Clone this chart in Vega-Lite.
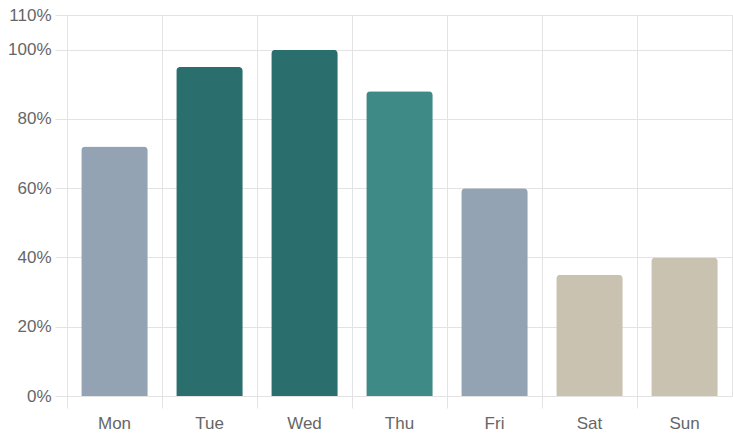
{
  "$schema": "https://vega.github.io/schema/vega-lite/v6.json",
  "width": 665,
  "height": 381,
  "autosize": "none",
  "padding": {"left": 67, "top": 15, "right": 1, "bottom": 43},
  "config": {
    "view": {"stroke": "#e3e3e3", "strokeWidth": 1},
    "axis": {
      "labelFont": "Liberation Sans",
      "labelFontSize": 17,
      "labelColor": "#666666",
      "gridColor": "#e3e3e3",
      "tickColor": "#e3e3e3",
      "domainColor": "#d6d6d6",
      "title": null
    }
  },
  "data": {
    "values": [
      {"day": "Mon", "value": 0.72, "level": "medium"},
      {"day": "Tue", "value": 0.95, "level": "high"},
      {"day": "Wed", "value": 1.0, "level": "high"},
      {"day": "Thu", "value": 0.88, "level": "medium-high"},
      {"day": "Fri", "value": 0.60, "level": "medium"},
      {"day": "Sat", "value": 0.35, "level": "low"},
      {"day": "Sun", "value": 0.40, "level": "low"}
    ]
  },
  "mark": {"type": "bar", "width": {"band": 0.7}, "cornerRadiusTopLeft": 4, "cornerRadiusTopRight": 4},
  "encoding": {
    "x": {
      "field": "day",
      "type": "nominal",
      "sort": null,
      "scale": {"paddingInner": 0, "paddingOuter": 0},
      "axis": {
        "bandPosition": 0,
        "labelOffset": 0,
        "labelAngle": 0,
        "grid": true,
        "tickSize": 12,
        "labelPadding": 7,
        "domain": false
      }
    },
    "y": {
      "field": "value",
      "type": "quantitative",
      "scale": {"domain": [0, 1.1], "nice": false},
      "axis": {
        "values": [0, 0.2, 0.4, 0.6, 0.8, 1.0, 1.1],
        "format": ".0%",
        "tickSize": 12,
        "labelPadding": 4,
        "domain": false,
        "grid": true
      }
    },
    "color": {
      "field": "level",
      "type": "nominal",
      "scale": {
        "domain": ["high", "medium-high", "medium", "low"],
        "range": ["#2a6f6e", "#3d8a87", "#94a3b3", "#c9c2b1"]
      },
      "legend": null
    }
  }
}
